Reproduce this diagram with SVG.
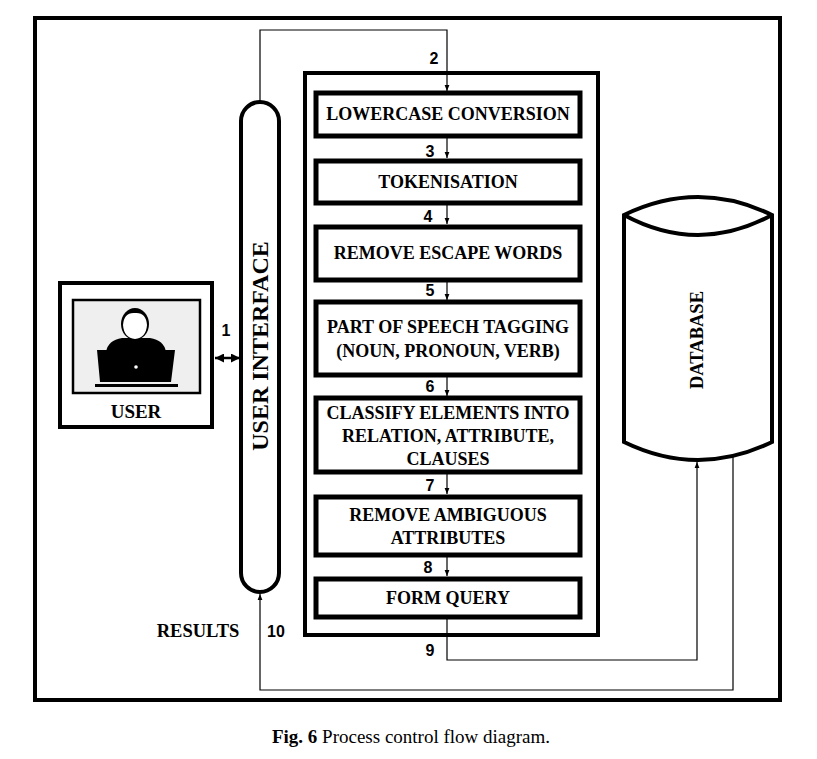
<svg xmlns="http://www.w3.org/2000/svg" width="817" height="759" viewBox="0 0 817 759">
<style>
.thick{fill:#fff;stroke:#000;stroke-width:4}
.box{fill:#fff;stroke:#000;stroke-width:5}
.t{font-family:"Liberation Serif","Times New Roman",serif;font-weight:bold;font-size:18px;text-anchor:middle;fill:#000}
.n{font-family:"Liberation Sans",Arial,sans-serif;font-weight:bold;font-size:16px;text-anchor:middle;fill:#000}
.c{fill:none;stroke:#000;stroke-width:1.2}
</style>
<defs>
<marker id="ah" viewBox="0 0 10 10" refX="10" refY="5" markerWidth="6" markerHeight="6" orient="auto" markerUnits="userSpaceOnUse"><path d="M0,1 L10,5 L0,9 z" fill="#000"/></marker>
<marker id="ah2" viewBox="0 0 10 10" refX="10" refY="5" markerWidth="9" markerHeight="9" orient="auto-start-reverse" markerUnits="userSpaceOnUse"><path d="M0,0 L10,5 L0,10 z" fill="#000"/></marker>
</defs>
<rect width="817" height="759" fill="#fff"/>
<rect id="frame" x="35" y="18" width="745" height="682" fill="none" stroke="#000" stroke-width="4"/>

<g id="connectors">
<path class="c" d="M260,102 V30 H447 V91" marker-end="url(#ah)"/>
<path class="c" d="M447,137 V158" marker-end="url(#ah)"/>
<path class="c" d="M447,203 V224" marker-end="url(#ah)"/>
<path class="c" d="M447,280 V300" marker-end="url(#ah)"/>
<path class="c" d="M447,375 V396" marker-end="url(#ah)"/>
<path class="c" d="M447,472 V494" marker-end="url(#ah)"/>
<path class="c" d="M447,555 V576" marker-end="url(#ah)"/>
<path class="c" d="M447,617 V660 H697 V462" marker-end="url(#ah)"/>
<path class="c" d="M733,452 V690 H260 V594" marker-end="url(#ah)"/>
<path d="M215,358 H240" fill="none" stroke="#000" stroke-width="2.5" marker-start="url(#ah2)" marker-end="url(#ah2)"/>
</g>

<g id="container"><rect x="305" y="73" width="293" height="562" fill="none" stroke="#000" stroke-width="4"/></g>

<g id="user">
<rect class="thick" x="60" y="283" width="152" height="144"/>
<rect x="73" y="300" width="127" height="93" fill="#efefef" stroke="#000" stroke-width="2.5"/>
<path d="M106,352 Q108,340 122,338 L150,338 Q164,340 166,352 Z" fill="#000"/>
<ellipse cx="135" cy="324" rx="14" ry="16" fill="#000"/>
<path d="M123,325 Q124,312 135,313 Q146,312 147,325 Q146,338 135,339 Q124,338 123,325 Z" fill="#fff"/>
<path d="M97,350 L175,350 L171,382 L100,382 Z" fill="#000"/>
<rect x="95" y="384" width="83" height="3" fill="#000"/>
<circle cx="136" cy="367" r="1.8" fill="#fff"/>
<text class="t" x="136" y="418" style="font-size:19px">USER</text>
</g>

<g id="ui">
<rect class="thick" x="241" y="102" width="38" height="490" rx="19" ry="19"/>
<text class="t" transform="translate(268,346) rotate(-90)" style="font-size:24px">USER INTERFACE</text>
</g>

<g id="n1"><rect class="box" x="316" y="93" width="264" height="43"/><text class="t" x="448" y="120">LOWERCASE CONVERSION</text></g>
<g id="n2"><rect class="box" x="316" y="161" width="264" height="42"/><text class="t" x="448" y="188">TOKENISATION</text></g>
<g id="n3"><rect class="box" x="316" y="227" width="264" height="53"/><text class="t" x="448" y="259">REMOVE ESCAPE WORDS</text></g>
<g id="n4"><rect class="box" x="316" y="302" width="264" height="73"/><text class="t" x="448" y="333">PART OF SPEECH TAGGING</text><text class="t" x="448" y="357">(NOUN, PRONOUN, VERB)</text></g>
<g id="n5"><rect class="box" x="316" y="398" width="264" height="74"/><text class="t" x="448" y="419">CLASSIFY ELEMENTS INTO</text><text class="t" x="448" y="442">RELATION, ATTRIBUTE,</text><text class="t" x="448" y="465">CLAUSES</text></g>
<g id="n6"><rect class="box" x="316" y="497" width="264" height="58"/><text class="t" x="448" y="521">REMOVE AMBIGUOUS</text><text class="t" x="448" y="544">ATTRIBUTES</text></g>
<g id="n7"><rect class="box" x="316" y="579" width="264" height="38"/><text class="t" x="448" y="604">FORM QUERY</text></g>

<g id="database">
<path d="M624,215 Q698,179 772,215 V442 Q698,478 624,442 Z" fill="#fff" stroke="#000" stroke-width="4"/>
<path d="M624,215 Q698,255 772,215" fill="none" stroke="#000" stroke-width="4"/>
<text class="t" transform="translate(703,340) rotate(-90)" style="font-size:18.5px">DATABASE</text>
</g>

<g id="labels">
<text class="n" x="434" y="64">2</text>
<text class="n" x="430" y="157">3</text>
<text class="n" x="428" y="222">4</text>
<text class="n" x="430" y="296">5</text>
<text class="n" x="430" y="392">6</text>
<text class="n" x="430" y="491">7</text>
<text class="n" x="428" y="573">8</text>
<text class="n" x="430" y="656">9</text>
<text class="n" x="226" y="336">1</text>
<text class="n" x="276" y="637">10</text>
<text class="t" x="198" y="637" style="font-size:18.5px">RESULTS</text>
</g>

<text x="411" y="743" style="font-family:'Liberation Serif','Times New Roman',serif;font-size:19px;text-anchor:middle"><tspan font-weight="bold">Fig. 6</tspan> Process control flow diagram.</text>
</svg>
